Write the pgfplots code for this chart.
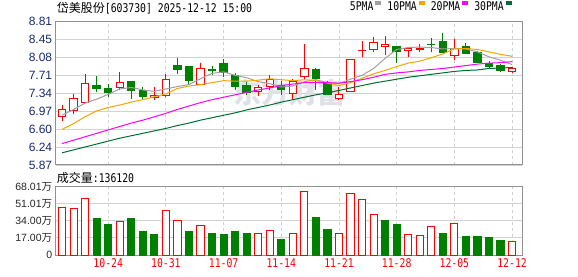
\documentclass[border=0pt]{standalone}
\usepackage{fontspec}
\setmainfont{Liberation Sans}
\newfontfamily\cjk{Noto Sans CJK SC}
\newfontfamily\monof[FakeStretch=0.815]{DejaVu Sans Mono}
\usepackage{pgfplots}
\usepackage{pgfplotstable}
\pgfplotsset{compat=1.18}

\definecolor{kred}{RGB}{255,0,0}
\definecolor{kgreen}{RGB}{0,128,0}
\definecolor{maA}{RGB}{160,160,160}
\definecolor{maB}{RGB}{245,165,0}
\definecolor{maC}{RGB}{255,0,255}
\definecolor{maD}{RGB}{0,110,50}
\definecolor{gridc}{RGB}{210,210,210}
\definecolor{framec}{RGB}{145,145,145}
\definecolor{lblblue}{RGB}{25,40,110}
\definecolor{wm}{RGB}{224,225,231}

% candle: x, open, high, low, close
\newcommand{\cR}[5]{%
  \pgfmathsetmacro\xl{#1-0.32}\pgfmathsetmacro\xr{#1+0.32}%
  \addplot[forget plot, kred, line width=1pt, mark=none] coordinates {(#1,#4) (#1,#3)};
  \addplot[forget plot, draw=kred, fill=white, line width=1pt, mark=none]
    coordinates {(\xl,#2) (\xr,#2) (\xr,#5) (\xl,#5)} -- cycle;}
\newcommand{\cG}[5]{%
  \pgfmathsetmacro\xl{#1-0.32}\pgfmathsetmacro\xr{#1+0.32}%
  \addplot[forget plot, kgreen, line width=1pt, mark=none] coordinates {(#1,#4) (#1,#3)};
  \addplot[forget plot, draw=kgreen, fill=kgreen, line width=1pt, mark=none]
    coordinates {(\xl,#2) (\xr,#2) (\xr,#5) (\xl,#5)} -- cycle;}

\pgfplotstableread{
x ma5 ma10 ma20 ma30
0 6.89 6.60 6.31 6.12
1 7.01 6.72 6.38 6.18
2 7.14 6.86 6.45 6.24
3 7.22 6.98 6.52 6.30
4 7.32 7.05 6.59 6.36
5 7.43 7.10 6.66 6.42
6 7.46 7.16 6.73 6.47
7 7.41 7.21 6.79 6.52
8 7.38 7.27 6.86 6.57
9 7.43 7.33 6.93 6.62
10 7.48 7.44 7.01 6.68
11 7.52 7.49 7.08 6.73
12 7.64 7.52 7.15 6.79
13 7.75 7.56 7.21 6.84
14 7.78 7.60 7.26 6.89
15 7.71 7.59 7.31 6.94
16 7.66 7.59 7.36 7.00
17 7.58 7.61 7.41 7.05
18 7.54 7.64 7.45 7.10
19 7.47 7.62 7.50 7.16
20 7.49 7.60 7.53 7.21
21 7.58 7.62 7.56 7.26
22 7.62 7.60 7.56 7.31
23 7.56 7.55 7.56 7.35
24 7.54 7.50 7.55 7.40
25 7.63 7.56 7.58 7.45
26 7.71 7.65 7.62 7.50
27 7.85 7.74 7.67 7.55
28 8.06 7.81 7.73 7.59
29 8.24 7.89 7.76 7.63
30 8.28 7.96 7.78 7.67
31 8.29 8.00 7.81 7.70
32 8.28 8.07 7.83 7.73
33 8.25 8.15 7.85 7.76
34 8.26 8.25 7.88 7.79
35 8.25 8.26 7.91 7.81
36 8.19 8.24 7.94 7.82
37 8.09 8.19 7.96 7.85
38 8.02 8.14 7.97 7.86
39 7.93 8.10 7.99 7.87
}\matab

\pgfplotstableread{
x v
0 47.5
1 46.7
2 56.7
5 33.7
9 44.7
10 34.7
12 29.7
17 21.7
18 24.7
20 21.7
21 63.7
24 21.7
25 61.7
26 55.7
27 40.7
30 20.7
31 19.7
32 28.7
34 31.7
39 13.61
}\volred

\pgfplotstableread{
x v
3 36.0
4 30.0
6 36.0
7 23.0
8 20.0
11 23.0
13 21.0
14 20.0
15 23.0
16 21.0
19 15.0
22 37.7
23 25.7
28 34.7
29 30.7
33 21.7
35 18.7
36 18.7
37 17.7
38 14.7
}\volgreen

\pgfplotsset{
  kbase/.style={
    scale only axis, width=466.3pt,
    xmin=-0.55, xmax=39.86,
    xtick={4,9,14,19,24,29,34,39},
    major tick length=0pt,
    xmajorgrids, ymajorgrids,
    major x grid style={gridc, line width=0.9pt, dash pattern=on 3pt off 3pt},
    major y grid style={gridc, line width=0.9pt},
    axis line style={framec, line width=1pt},
  }
}

\begin{document}
\begin{tikzpicture}
\useasboundingbox (0,0) rectangle (578pt,276pt);

\node[anchor=base west, inner sep=0pt] at (56.7pt,263.6pt)
  {{\cjk\fontsize{12}{12}\selectfont 岱美股份}{\monof\fontsize{12}{12}\selectfont[603730] 2025-12-12 15:00}};

\begin{axis}[kbase,
  at={(55.7pt,254.3pt)}, anchor=north west, height=143.3pt,
  ymin=5.87, ymax=8.81,
  xticklabels={},
  ytick={5.87,6.2375,6.605,6.9725,7.34,7.7075,8.075,8.4425,8.81},
  yticklabels={5.87,6.24,6.60,6.97,7.34,7.71,8.08,8.45,8.81},
  yticklabel style={font=\fontsize{12}{12}\selectfont, text=lblblue},
  legend columns=4,
  legend plot pos=right,
  legend image code/.code={\fill (0pt,0.18em) rectangle (5pt,0.5em);},
  legend style={at={(0.978,1)}, anchor=south east, yshift=8pt,
    draw=none, fill=none, inner sep=0pt, outer sep=0pt,
    font=\monof\fontsize{12}{12}\selectfont,
    /tikz/every even column/.append style={column sep=4pt},
    /tikz/every odd column/.append style={column sep=0pt}},
]
\node[text=wm, font=\cjk\bfseries\fontsize{28}{28}\selectfont] at (axis cs:19.7,7.35) {东方财富};

\cR{0}{6.86}{7.11}{6.77}{7.00}
\cR{1}{6.99}{7.33}{6.91}{7.24}
\cR{2}{7.16}{7.74}{7.14}{7.55}
\cG{3}{7.50}{7.70}{7.36}{7.44}
\cG{4}{7.44}{7.53}{7.27}{7.36}
\cR{5}{7.47}{7.78}{7.40}{7.57}
\cG{6}{7.58}{7.58}{7.23}{7.39}
\cG{7}{7.40}{7.48}{7.20}{7.27}
\cR{8}{7.25}{7.46}{7.20}{7.29}
\cR{9}{7.29}{7.74}{7.27}{7.63}
\cG{10}{7.91}{8.06}{7.74}{7.83}
\cG{11}{7.90}{7.90}{7.53}{7.60}
\cR{12}{7.53}{7.97}{7.53}{7.86}
\cG{13}{7.825}{7.91}{7.72}{7.82}
\cG{14}{7.95}{8.05}{7.67}{7.77}
\cG{15}{7.71}{7.75}{7.40}{7.48}
\cG{16}{7.50}{7.57}{7.30}{7.36}
\cR{17}{7.37}{7.52}{7.28}{7.45}
\cR{18}{7.49}{7.72}{7.40}{7.62}
\cG{19}{7.51}{7.60}{7.31}{7.42}
\cR{20}{7.33}{7.63}{7.20}{7.58}
\cR{21}{7.68}{8.36}{7.62}{7.84}
\cG{22}{7.82}{7.87}{7.40}{7.65}
\cG{23}{7.54}{7.60}{7.31}{7.32}
\cR{24}{7.24}{7.48}{7.21}{7.31}
\cR{25}{7.38}{8.05}{7.37}{8.04}
\cR{26}{8.215}{8.42}{8.08}{8.22}
\cR{27}{8.23}{8.50}{8.18}{8.38}
\cR{28}{8.31}{8.51}{8.12}{8.34}
\cG{29}{8.31}{8.31}{7.97}{8.20}
\cR{30}{8.21}{8.25}{8.08}{8.25}
\cR{31}{8.23}{8.36}{8.18}{8.27}
\cG{32}{8.35}{8.48}{8.18}{8.345}
\cG{33}{8.41}{8.57}{8.18}{8.18}
\cR{34}{8.12}{8.45}{8.03}{8.27}
\cG{35}{8.31}{8.38}{8.14}{8.16}
\cG{36}{8.17}{8.21}{7.97}{7.97}
\cG{37}{7.95}{8.00}{7.84}{7.89}
\cG{38}{7.92}{7.95}{7.77}{7.81}
\cR{39}{7.78}{7.88}{7.76}{7.84}

\addplot[maA, line width=1pt, mark=none] table[x=x, y=ma5] {\matab};
\addlegendentry{5PMA}
\addplot[maB, line width=1pt, mark=none] table[x=x, y=ma10] {\matab};
\addlegendentry{10PMA}
\addplot[maC, line width=1pt, mark=none] table[x=x, y=ma20] {\matab};
\addlegendentry{20PMA}
\addplot[maD, line width=1pt, mark=none] table[x=x, y=ma30] {\matab};
\addlegendentry{30PMA}
\end{axis}

\node[anchor=base west, inner sep=0pt] at (56.7pt,93.6pt)
  {{\cjk\fontsize{12}{12}\selectfont 成交量}{\monof\fontsize{12}{12}\selectfont:136120}};

\begin{axis}[kbase,
  at={(55.7pt,89.3pt)}, anchor=north west, height=68.3pt,
  ymin=0, ymax=68.01,
  ytick={0,17,34,51.01,68.01},
  yticklabels={0,17.00{\cjk 万},34.00{\cjk 万},51.01{\cjk 万},68.01{\cjk 万}},
  yticklabel style={font=\fontsize{10.5}{10.5}\selectfont, text=black!85},
  xticklabels={10-24,10-31,11-07,11-14,11-21,11-28,12-05,12-12},
  xticklabel style={font=\monof\fontsize{12}{12}\selectfont, text=kred},
]
\addplot[ybar, bar width=0.62, bar shift=0pt, draw=kred, fill=white, line width=1pt] table[x=x, y=v] {\volred};
\addplot[ybar, bar width=0.62, bar shift=0pt, draw=kgreen, fill=kgreen, line width=1pt] table[x=x, y=v] {\volgreen};
\end{axis}
\end{tikzpicture}
\end{document}
